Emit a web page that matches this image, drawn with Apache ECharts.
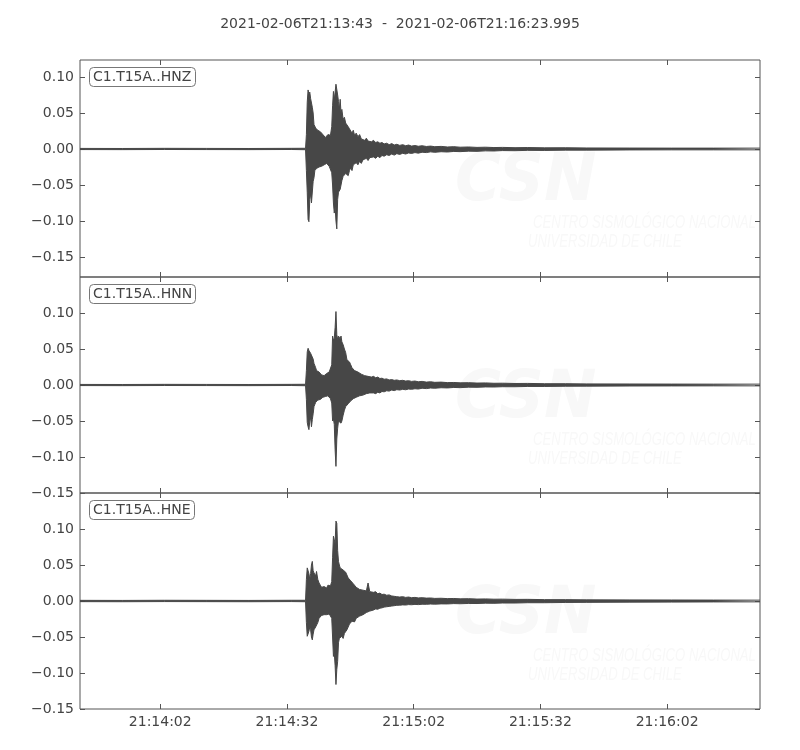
<!DOCTYPE html>
<html><head><meta charset="utf-8">
<script src="https://cdn.jsdelivr.net/npm/echarts@6/dist/echarts.min.js"></script>
<style>html,body{margin:0;padding:0;background:#fff}#c{width:800px;height:750px}</style>
</head><body><div id="c"></div><script>
// Seconds since 2021-02-06T21:13:43
const times = [
  0, 10, 20, 30, 40, 50, 53.4,
  53.6, 53.8, 54.0, 54.2, 54.4, 54.6, 54.8, 55.0, 55.2, 55.4, 55.6, 55.8,
  56.0, 56.3, 56.6, 56.9, 57.2, 57.5, 57.8, 58.1, 58.4, 58.7, 59.0, 59.3, 59.6,
  59.8, 60.0, 60.2, 60.4, 60.6, 60.8, 61.0, 61.2, 61.4, 61.6, 61.8, 62.0,
  62.3, 62.6, 62.9, 63.2, 63.5, 63.8,
  64.1, 64.4, 64.7, 65.0,
  65.4, 65.8, 66.2, 66.6, 67.0, 67.4, 67.8, 68.2, 68.6, 69.0,
  69.5, 70.0, 70.5, 71.0, 71.5, 72.0,
  72.6, 73.2, 73.8, 74.4, 75.0,
  75.7, 76.4, 77.1, 77.8, 78.5,
  79.3, 80.1, 81, 82, 83, 84,
  85.5, 87, 88.5, 90,
  92, 94, 96, 98, 100,
  103, 106, 110, 115, 120,
  130, 140, 150, 160.99
];
// Envelope (upper / lower) of each trace
const upZ = [
  0.0008, 0.0007, 0.0009, 0.0008, 0.0007, 0.0009, 0.0010,
  0.020, 0.065, 0.082, 0.076, 0.079, 0.070, 0.072, 0.058, 0.050, 0.034, 0.036, 0.029,
  0.028, 0.026, 0.027, 0.024, 0.022, 0.020, 0.019, 0.016, 0.015, 0.020, 0.022, 0.019, 0.031,
  0.060, 0.080, 0.068, 0.070, 0.090, 0.091, 0.075, 0.066, 0.055, 0.069, 0.050, 0.055,
  0.041, 0.044, 0.036, 0.038, 0.031, 0.028,
  0.030, 0.022, 0.026, 0.019,
  0.022, 0.017, 0.020, 0.014, 0.016, 0.012, 0.015, 0.011, 0.013, 0.010,
  0.012, 0.009, 0.010, 0.008, 0.009, 0.007,
  0.008, 0.006, 0.0075, 0.0055, 0.0065,
  0.005, 0.006, 0.0045, 0.0055, 0.004,
  0.0048, 0.0038, 0.0045, 0.0035, 0.004, 0.0032,
  0.0036, 0.0028, 0.0032, 0.0025,
  0.0028, 0.0022, 0.0025, 0.002, 0.0022,
  0.0018, 0.002, 0.0016, 0.0017, 0.0014,
  0.0013, 0.0012, 0.0012, 0.0012
];
const loZ = [
  -0.0008, -0.0009, -0.0007, -0.0008, -0.0009, -0.0007, -0.0010,
  -0.030, -0.060, -0.098, -0.101, -0.070, -0.062, -0.075, -0.074, -0.045, -0.040, -0.030, -0.031,
  -0.027, -0.029, -0.025, -0.027, -0.024, -0.026, -0.022, -0.024, -0.020, -0.022, -0.024, -0.026, -0.033,
  -0.050, -0.075, -0.089, -0.080, -0.100, -0.111, -0.070, -0.060, -0.058, -0.056, -0.050, -0.044,
  -0.038, -0.040, -0.034, -0.036, -0.037, -0.030,
  -0.026, -0.030, -0.022, -0.024,
  -0.019, -0.022, -0.017, -0.020, -0.015, -0.017, -0.013, -0.016, -0.012, -0.014,
  -0.011, -0.013, -0.010, -0.012, -0.009, -0.010,
  -0.008, -0.009, -0.007, -0.0085, -0.0065,
  -0.0075, -0.006, -0.007, -0.0055, -0.0062,
  -0.005, -0.0058, -0.0045, -0.005, -0.004, -0.0046,
  -0.0038, -0.0042, -0.0034, -0.0037,
  -0.003, -0.0033, -0.0026, -0.0028, -0.0022,
  -0.0024, -0.0019, -0.002, -0.0016, -0.0016,
  -0.0013, -0.0012, -0.0012, -0.0012
];
const upN = [
  0.0008, 0.0007, 0.0009, 0.0008, 0.0007, 0.0009, 0.0010,
  0.020, 0.046, 0.051, 0.048, 0.049, 0.044, 0.046, 0.042, 0.036, 0.030, 0.028, 0.024,
  0.020, 0.019, 0.018, 0.016, 0.014, 0.015, 0.013, 0.014, 0.016, 0.017, 0.018, 0.020, 0.028,
  0.068, 0.062, 0.065, 0.080, 0.102, 0.070, 0.063, 0.068, 0.066, 0.064, 0.068, 0.060,
  0.056, 0.050, 0.045, 0.035, 0.034, 0.032,
  0.028, 0.024, 0.026, 0.020,
  0.021, 0.018, 0.019, 0.015, 0.016, 0.013, 0.014, 0.012, 0.013, 0.011,
  0.012, 0.010, 0.011, 0.009, 0.0095, 0.008,
  0.0085, 0.007, 0.0075, 0.0065, 0.007,
  0.006, 0.0065, 0.0055, 0.006, 0.005,
  0.0055, 0.0045, 0.005, 0.004, 0.0045, 0.0037,
  0.004, 0.0033, 0.0035, 0.003,
  0.0032, 0.0027, 0.0029, 0.0024, 0.0025,
  0.0021, 0.0022, 0.0018, 0.0018, 0.0015,
  0.0014, 0.0013, 0.0012, 0.0012
];
const loN = [
  -0.0008, -0.0009, -0.0007, -0.0008, -0.0009, -0.0007, -0.0010,
  -0.020, -0.052, -0.058, -0.062, -0.050, -0.045, -0.058, -0.048, -0.040, -0.030, -0.027, -0.024,
  -0.022, -0.021, -0.019, -0.020, -0.018, -0.017, -0.018, -0.016, -0.016, -0.015, -0.016, -0.019, -0.025,
  -0.050, -0.047, -0.055, -0.090, -0.113, -0.075, -0.060, -0.050, -0.048, -0.052, -0.053, -0.050,
  -0.042, -0.035, -0.030, -0.028, -0.026, -0.025,
  -0.022, -0.024, -0.019, -0.021,
  -0.017, -0.019, -0.015, -0.017, -0.014, -0.015, -0.012, -0.014, -0.011, -0.013,
  -0.011, -0.012, -0.010, -0.011, -0.009, -0.0095,
  -0.008, -0.0085, -0.007, -0.0078, -0.0065,
  -0.007, -0.006, -0.0066, -0.0056, -0.006,
  -0.0052, -0.0056, -0.0045, -0.005, -0.0042, -0.0045,
  -0.0038, -0.0041, -0.0034, -0.0037,
  -0.003, -0.0032, -0.0027, -0.0028, -0.0024,
  -0.0024, -0.002, -0.002, -0.0017, -0.0016,
  -0.0014, -0.0013, -0.0012, -0.0012
];
const upE = [
  0.0009, 0.0008, 0.0010, 0.0009, 0.0008, 0.0010, 0.0010,
  0.030, 0.046, 0.044, 0.038, 0.030, 0.038, 0.050, 0.055, 0.042, 0.039, 0.037, 0.035,
  0.041, 0.030, 0.025, 0.022, 0.019, 0.018, 0.020, 0.019, 0.018, 0.022, 0.023, 0.021, 0.027,
  0.060, 0.090, 0.085, 0.080, 0.111, 0.108, 0.070, 0.055, 0.050, 0.046, 0.044, 0.045,
  0.043, 0.044, 0.040, 0.041, 0.032, 0.034,
  0.028, 0.030, 0.024, 0.025,
  0.019, 0.021, 0.016, 0.018, 0.015, 0.016, 0.014, 0.025, 0.013, 0.014,
  0.012, 0.013, 0.010, 0.011, 0.009, 0.0095,
  0.008, 0.0085, 0.007, 0.0065, 0.006,
  0.0055, 0.006, 0.005, 0.0055, 0.0046,
  0.005, 0.0043, 0.0046, 0.004, 0.0042, 0.0036,
  0.0038, 0.0033, 0.0035, 0.003,
  0.0032, 0.0027, 0.0029, 0.0025, 0.0026,
  0.0022, 0.0023, 0.0019, 0.0019, 0.0016,
  0.0015, 0.0014, 0.0013, 0.0012
];
const loE = [
  -0.0009, -0.0010, -0.0008, -0.0009, -0.0010, -0.0008, -0.0010,
  -0.030, -0.049, -0.047, -0.042, -0.036, -0.040, -0.050, -0.054, -0.046, -0.040, -0.038, -0.036,
  -0.035, -0.030, -0.024, -0.022, -0.020, -0.021, -0.019, -0.020, -0.019, -0.017, -0.018, -0.020, -0.024,
  -0.050, -0.077, -0.072, -0.090, -0.116, -0.095, -0.084, -0.058, -0.052, -0.051, -0.050, -0.049,
  -0.052, -0.045, -0.046, -0.040, -0.038, -0.032,
  -0.034, -0.028, -0.030, -0.029,
  -0.024, -0.026, -0.021, -0.022, -0.019, -0.017, -0.016, -0.015, -0.014, -0.013,
  -0.0125, -0.011, -0.0115, -0.010, -0.0095, -0.0085,
  -0.008, -0.0075, -0.007, -0.0065, -0.006,
  -0.0058, -0.0054, -0.0056, -0.005, -0.0052,
  -0.0047, -0.005, -0.0045, -0.0046, -0.0042, -0.0044,
  -0.004, -0.0041, -0.0036, -0.0038,
  -0.0034, -0.0035, -0.003, -0.0032, -0.0028,
  -0.0028, -0.0024, -0.0024, -0.002, -0.0019,
  -0.0016, -0.0015, -0.0013, -0.0012
];
const channels = ['C1.T15A..HNZ', 'C1.T15A..HNN', 'C1.T15A..HNE'];
const tickSeconds = [19, 49, 79, 109, 139];
const tickLabels = ['21:14:02', '21:14:32', '21:15:02', '21:15:32', '21:16:02'];
const yTicks = [-0.15, -0.10, -0.05, 0, 0.05, 0.10];
const yRanges = [[-0.1778, 0.1236], [-0.15, 0.15], [-0.15, 0.15]];
const titleText = '2021-02-06T21:13:43  -  2021-02-06T21:16:23.995';
const xMax = 160.995;

const FONT = 'DejaVu Sans';
const INK = '#444';
const TRACE = '#474747';
const SPINE = '#555';
const panels = [{top: 60, height: 217}, {top: 277, height: 216}, {top: 493, height: 216}];
const ups = [upZ, upN, upE], los = [loZ, loN, loE];

const chart = echarts.init(document.getElementById('c'), null, {renderer: 'canvas'});
const fmtY = v => (v < -1e-9 ? '\u2212' : '') + Math.abs(v).toFixed(2);
const fmtX = v => { const i = tickSeconds.indexOf(Math.round(v)); return i >= 0 ? tickLabels[i] : ''; };

const xAxes = [], yAxes = [], series = [], titles = [], graphics = [];
titles.push({text: titleText, left: 'center', top: 12,
  textStyle: {fontFamily: FONT, fontSize: 14, fontWeight: 'normal', color: INK}});
panels.forEach((p, i) => {
  titles.push({text: channels[i], left: 89, top: p.top + 7, padding: [3, 4, 3, 4],
    borderColor: '#777', borderWidth: 1, borderRadius: 4, backgroundColor: '#fff',
    textStyle: {fontFamily: FONT, fontSize: 14, fontWeight: 'normal', color: INK}});
  ['bottom', 'top'].forEach(pos => {
    xAxes.push({type: 'value', gridIndex: i, position: pos, min: 0, max: xMax,
      axisLine: {show: false, onZero: false}, splitLine: {show: false},
      axisTick: {show: true, inside: true, length: 5, customValues: tickSeconds, lineStyle: {color: SPINE}},
      axisLabel: {show: pos === 'bottom' && i === 2, customValues: tickSeconds, formatter: fmtX,
        margin: 6, fontFamily: FONT, fontSize: 14, color: INK}});
  });
  ['left', 'right'].forEach(pos => {
    yAxes.push({type: 'value', gridIndex: i, position: pos, min: yRanges[i][0], max: yRanges[i][1],
      axisLine: {show: false, onZero: false}, splitLine: {show: false},
      axisTick: {show: true, inside: true, length: 5, customValues: yTicks, lineStyle: {color: SPINE}},
      axisLabel: {show: pos === 'left', customValues: yTicks, formatter: fmtY,
        margin: 6, fontFamily: FONT, fontSize: 14, color: INK}});
  });
  [ups[i], los[i]].forEach(arr => {
    series.push({type: 'line', xAxisIndex: 2 * i, yAxisIndex: 2 * i, symbol: 'none', silent: true,
      data: times.map((t, k) => [t, arr[k]]),
      lineStyle: {color: TRACE, width: 1}, areaStyle: {color: TRACE, opacity: 1, origin: 0}, z: 3});
  });
  // faint CSN watermark
  const off = p.top - 60;
  graphics.push({type: 'text', z: -1, x: 455, y: 150 + off, scaleX: 0.95,
    style: {text: 'CSN', font: 'italic bold 66px "DejaVu Sans"', fill: '#f8f8f8'}});
  graphics.push({type: 'text', z: -1, x: 533, y: 213 + off, scaleX: 0.69,
    style: {text: 'CENTRO SISMOLÓGICO NACIONAL', font: 'italic 19px "Liberation Sans"', fill: '#f8f8f8'}});
  graphics.push({type: 'text', z: -1, x: 528, y: 232 + off, scaleX: 0.69,
    style: {text: 'UNIVERSIDAD DE CHILE', font: 'italic 19px "Liberation Sans"', fill: '#f8f8f8'}});
});

chart.setOption({
  animation: false,
  backgroundColor: '#fff',
  title: titles,
  grid: panels.map(p => ({left: 80, width: 680, top: p.top, height: p.height, show: true,
    borderColor: SPINE, borderWidth: 1, backgroundColor: 'transparent'})),
  xAxis: xAxes,
  yAxis: yAxes,
  graphic: graphics,
  series: series
});
</script></body></html>
